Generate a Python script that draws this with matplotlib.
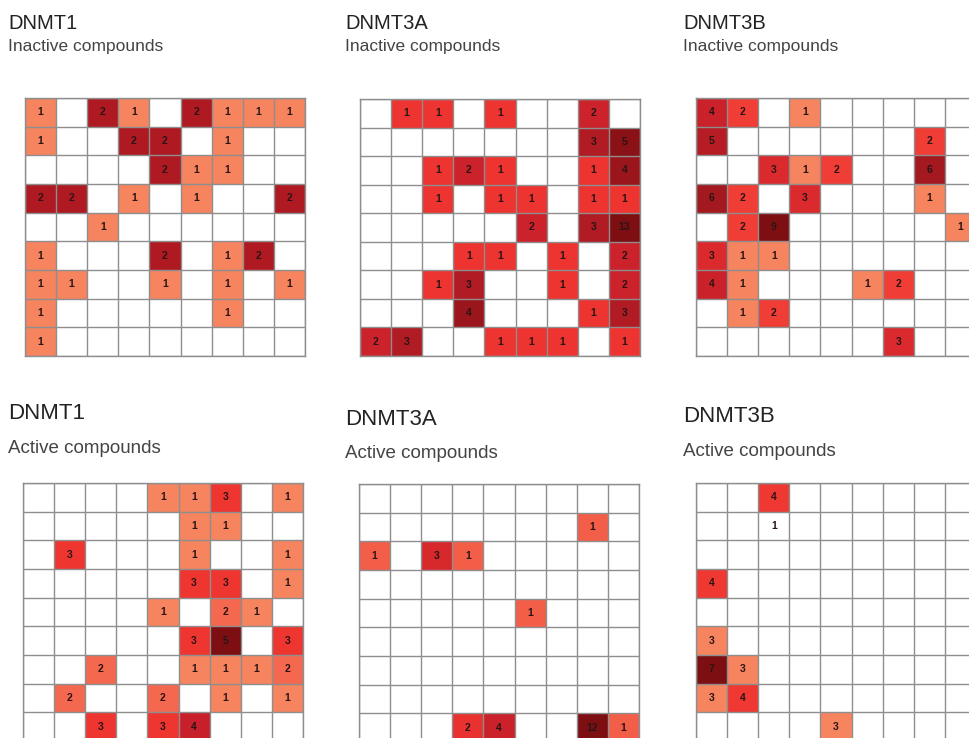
import numpy as np
import matplotlib
matplotlib.use("Agg")
from matplotlib import pyplot as plt
from matplotlib import colors as mcolors

plt.rcParams['font.family'] = ['Liberation Sans', 'DejaVu Sans']

# compound counts per cell of the 9x9 map, top row first
dnmt1_inactive = [
    [1, 0, 2, 1, 0, 2, 1, 1, 1],
    [1, 0, 0, 2, 2, 0, 1, 0, 0],
    [0, 0, 0, 0, 2, 1, 1, 0, 0],
    [2, 2, 0, 1, 0, 1, 0, 0, 2],
    [0, 0, 1, 0, 0, 0, 0, 0, 0],
    [1, 0, 0, 0, 2, 0, 1, 2, 0],
    [1, 1, 0, 0, 1, 0, 1, 0, 1],
    [1, 0, 0, 0, 0, 0, 1, 0, 0],
    [1, 0, 0, 0, 0, 0, 0, 0, 0],
]
dnmt3a_inactive = [
    [0, 1, 1, 0, 1, 0, 0, 2, 0],
    [0, 0, 0, 0, 0, 0, 0, 3, 5],
    [0, 0, 1, 2, 1, 0, 0, 1, 4],
    [0, 0, 1, 0, 1, 1, 0, 1, 1],
    [0, 0, 0, 0, 0, 2, 0, 3, 13],
    [0, 0, 0, 1, 1, 0, 1, 0, 2],
    [0, 0, 1, 3, 0, 0, 1, 0, 2],
    [0, 0, 0, 4, 0, 0, 0, 1, 3],
    [2, 3, 0, 0, 1, 1, 1, 0, 1],
]
dnmt3b_inactive = [
    [4, 2, 0, 1, 0, 0, 0, 0, 0],
    [5, 0, 0, 0, 0, 0, 0, 2, 0],
    [0, 0, 3, 1, 2, 0, 0, 6, 0],
    [6, 2, 0, 3, 0, 0, 0, 1, 0],
    [0, 2, 9, 0, 0, 0, 0, 0, 1],
    [3, 1, 1, 0, 0, 0, 0, 0, 0],
    [4, 1, 0, 0, 0, 1, 2, 0, 0],
    [0, 1, 2, 0, 0, 0, 0, 0, 0],
    [0, 0, 0, 0, 0, 0, 3, 0, 0],
]
dnmt1_active = [
    [0, 0, 0, 0, 1, 1, 3, 0, 1],
    [0, 0, 0, 0, 0, 1, 1, 0, 0],
    [0, 3, 0, 0, 0, 1, 0, 0, 1],
    [0, 0, 0, 0, 0, 3, 3, 0, 1],
    [0, 0, 0, 0, 1, 0, 2, 1, 0],
    [0, 0, 0, 0, 0, 3, 5, 0, 3],
    [0, 0, 2, 0, 0, 1, 1, 1, 2],
    [0, 2, 0, 0, 2, 0, 1, 0, 1],
    [0, 0, 3, 0, 3, 4, 0, 0, 0],
]
dnmt3a_active = [
    [0, 0, 0, 0, 0, 0, 0, 0, 0],
    [0, 0, 0, 0, 0, 0, 0, 1, 0],
    [1, 0, 3, 1, 0, 0, 0, 0, 0],
    [0, 0, 0, 0, 0, 0, 0, 0, 0],
    [0, 0, 0, 0, 0, 1, 0, 0, 0],
    [0, 0, 0, 0, 0, 0, 0, 0, 0],
    [0, 0, 0, 0, 0, 0, 0, 0, 0],
    [0, 0, 0, 0, 0, 0, 0, 0, 0],
    [0, 0, 0, 2, 4, 0, 0, 12, 1],
]
dnmt3b_active = [
    [0, 0, 4, 0, 0, 0, 0, 0, 0],
    [0, 0, 1, 0, 0, 0, 0, 0, 0],
    [0, 0, 0, 0, 0, 0, 0, 0, 0],
    [4, 0, 0, 0, 0, 0, 0, 0, 0],
    [0, 0, 0, 0, 0, 0, 0, 0, 0],
    [3, 0, 0, 0, 0, 0, 0, 0, 0],
    [7, 3, 0, 0, 0, 0, 0, 0, 0],
    [3, 4, 0, 0, 0, 0, 0, 0, 0],
    [0, 0, 0, 0, 3, 0, 0, 0, 0],
]

enzymes = ['DNMT1', 'DNMT3A', 'DNMT3B']
subtitles = ['Inactive compounds', 'Active compounds']

cmap = mcolors.LinearSegmentedColormap.from_list(
    'som_reds',
    [(0.0, '#f6845f'), (0.35, '#ef3530'), (0.65, '#c8202a'), (1.0, '#7d0f12')])
cmap.set_bad('white')
cmap.set_under('white')

W, H = 969, 738
fig = plt.figure(figsize=(W / 100, H / 100), dpi=100)


def px_axes(x0, y0, x1, y1):
    return fig.add_axes([x0 / W, 1 - y1 / H, (x1 - x0) / W, (y1 - y0) / H])


def draw_map(ax, grid, norm):
    data = np.array(grid, dtype=float)
    n = data.shape[0]
    masked = np.ma.masked_equal(data, 0)
    ax.pcolormesh(np.arange(n + 1), np.arange(n + 1), masked,
                  cmap=cmap, norm=norm)
    for r in range(n):
        for c in range(n):
            if data[r, c] > 0:
                ax.text(c + 0.5, r + 0.5, '%d' % data[r, c], ha='center',
                        va='center', fontsize=7.5, fontweight='bold',
                        color='#2a1414')
    ax.set_xlim(0, n)
    ax.set_ylim(n, 0)
    ax.set_xticks(np.arange(n + 1))
    ax.set_yticks(np.arange(n + 1))
    ax.tick_params(length=0, labelbottom=False, labelleft=False)
    ax.grid(True, color='#8e8e8e', lw=1.0)
    ax.set_axisbelow(False)
    for s in ax.spines.values():
        s.set_color('#8e8e8e')
        s.set_linewidth(1.0)


panels = [
    (dnmt1_inactive, mcolors.Normalize(1, 2.3), (25, 98, 305, 356)),
    (dnmt3a_inactive, mcolors.LogNorm(0.35, 6), (360, 99, 640, 356)),
    (dnmt3b_inactive, mcolors.LogNorm(1, 9), (696, 98, 976, 356)),
    (dnmt1_active, mcolors.PowerNorm(1.5, 1, 5), (23, 483, 303, 741)),
    (dnmt3a_active, mcolors.LogNorm(0.6, 12), (359, 484, 639, 742)),
    (dnmt3b_active, mcolors.LogNorm(3, 7), (696, 483, 976, 741)),
]
for grid, norm, box in panels:
    draw_map(px_axes(*box), grid, norm)

# panel headings: (x, title baseline, subtitle baseline) in pixels
title_pos = [
    [(8, 29, 51), (345, 29, 51), (683, 29, 51)],
    [(8, 419, 453), (345, 425, 458), (683, 422, 456)],
]
title_size = [(14.5, 12.5), (16, 13.5)]
for row, sub in enumerate(subtitles):
    ts, ss = title_size[row]
    for col, name in enumerate(enzymes):
        x, yt, ys = title_pos[row][col]
        fig.text(x / W, 1 - yt / H, name, fontsize=ts, color='#222222',
                 va='baseline', ha='left')
        fig.text(x / W, 1 - ys / H, sub, fontsize=ss, color='#444444',
                 va='baseline', ha='left')

fig.savefig('out.png', dpi=100)
